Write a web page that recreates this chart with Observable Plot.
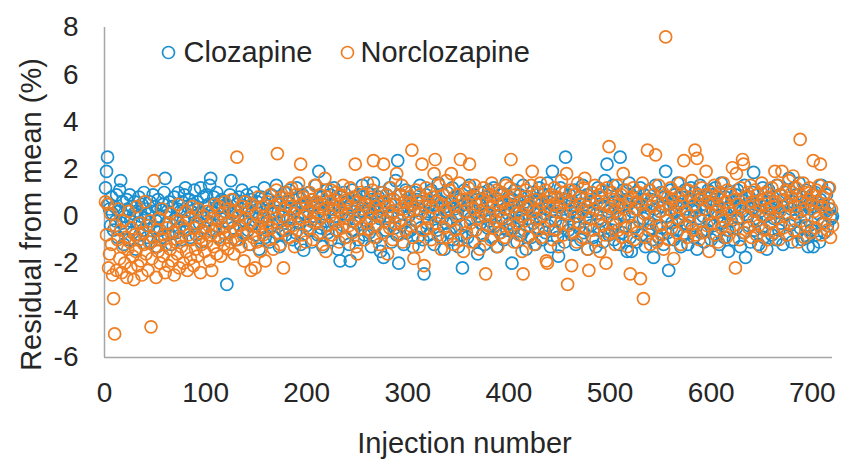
<!DOCTYPE html>
<html><head><meta charset="utf-8">
<script src="https://cdn.jsdelivr.net/npm/d3@7"></script>
<script src="https://cdn.jsdelivr.net/npm/@observablehq/plot@0.6"></script>
<style>html,body{margin:0;padding:0;background:#fff}</style>
</head><body><div id="chart"></div>
<script>
const seriesNames = ["Clozapine", "Norclozapine"];
const seriesColors = ["#1a8fd0", "#ef7d22"];
const xTicks = [0, 100, 200, 300, 400, 500, 600, 700];
const yTicks = [-6, -4, -2, 0, 2, 4, 6, 8];
const xDomain = [0, 720];
const yDomain = [-6, 8];
const xLabel = "Injection number";
const yLabel = "Residual from mean (%)";

// Clozapine residuals, injection 1..720
const clozapine = [
1.2,1.9,2.5,0.5,0.3,-0.4,0.8,0.1,-0.6,0.4,-0.2,0.9,-0.9,0.2,1.1,1.5,-0.3,0.6,-1.2,0.0,
-0.5,0.7,0.3,-1.0,0.9,-0.2,0.4,-0.7,0.1,0.6,-1.4,0.2,-0.3,0.8,-0.8,0.0,0.5,-0.6,1.0,-0.1,
0.3,-0.9,0.1,-0.4,0.6,-1.1,0.2,0.9,-0.5,0.4,-0.2,-1.3,0.7,0.0,-0.6,0.3,-0.9,0.5,1.0,1.6,
-0.3,0.2,-0.8,0.6,0.1,-1.2,0.4,-0.4,0.8,-0.1,-0.7,0.3,1.0,-0.5,0.2,-1.0,0.6,-0.2,0.9,1.2,
-0.6,0.4,-0.1,0.7,-0.9,0.2,0.5,-0.4,1.1,0.0,-0.8,0.6,0.3,-0.3,1.2,-1.1,0.1,0.8,-0.5,0.4,
0.9,-0.2,0.5,1.3,1.6,0.2,-0.6,0.8,0.1,-0.4,1.0,0.3,-0.9,0.6,-0.1,0.7,0.4,-0.7,0.2,0.5,
-2.9,0.4,-0.3,0.9,1.5,0.1,-0.5,0.7,0.2,-1.0,0.5,0.0,0.8,-0.4,0.3,1.1,-0.7,0.6,-0.2,0.4,
0.9,-0.6,0.2,-1.2,0.7,0.1,-0.3,1.0,-0.8,0.4,0.6,-0.1,-1.4,0.3,0.8,-0.5,0.0,1.2,-0.9,0.5,
-0.2,0.7,-1.1,0.3,0.9,-0.4,0.1,-0.9,0.6,1.3,-0.3,0.2,-1.3,0.5,0.8,-0.6,0.0,1.0,-0.8,0.4,
0.6,-0.5,1.1,-0.1,0.3,-1.0,0.7,0.2,-0.7,1.2,0.0,-0.3,0.8,-1.2,0.4,0.9,-1.45,0.1,0.5,-0.4,
0.2,1.0,-0.6,0.4,-1.1,0.7,0.0,-0.3,1.3,0.5,-0.8,1.9,0.3,-0.5,0.8,-1.3,0.1,0.6,-0.2,1.1,
-0.7,0.3,0.9,-1.0,0.5,-0.2,1.2,0.0,-0.6,0.7,-1.4,0.4,-1.9,0.8,0.1,-0.4,1.0,-0.9,0.3,0.6,
-0.1,-1.2,-1.9,0.5,1.1,-0.6,0.2,0.8,-0.3,0.4,-1.0,0.9,0.0,-0.5,1.3,0.2,-0.8,0.6,-0.2,1.0,
0.3,-0.7,0.7,-1.3,0.1,1.4,-0.4,0.5,-0.9,0.2,0.8,-0.1,-1.5,0.6,1.0,-1.75,0.4,-0.6,0.9,0.0,
-0.3,1.2,0.5,-1.1,0.2,0.7,-0.5,1.5,-0.8,2.35,-2.0,0.3,0.9,-0.4,0.1,-1.2,0.6,1.1,-0.7,0.4,
0.0,0.8,-0.6,0.5,-1.3,0.2,1.0,-0.2,0.7,-0.9,0.3,1.3,-0.5,0.6,-1.0,-2.45,0.4,0.9,-0.3,0.1,
-0.8,0.5,1.1,-0.4,0.2,-1.2,0.8,0.0,-0.6,1.4,0.3,-0.9,0.6,-0.1,0.9,-1.4,0.4,-0.3,1.0,0.2,
-0.7,0.6,-0.2,1.2,-1.0,0.3,0.8,-0.5,0.1,-1.3,0.7,0.4,-0.8,-2.2,0.5,1.1,-0.4,0.2,-0.9,0.6,
1.3,-0.1,0.4,-0.6,0.9,-1.1,0.2,0.7,-1.6,0.0,0.5,-0.3,1.0,-0.8,0.3,-1.2,0.8,0.1,-0.5,1.1,
-0.2,0.6,-0.9,0.4,1.2,-0.4,0.0,-1.3,0.7,0.2,-0.7,0.9,-0.1,0.5,-1.0,0.3,1.4,-0.6,0.1,0.8,
-0.3,0.5,-2.0,0.7,-0.5,1.1,0.2,-1.1,0.4,-0.2,0.9,-0.8,0.0,1.3,-0.6,0.6,-1.4,0.3,0.8,-0.1,
0.4,-0.9,1.0,-0.3,0.6,-1.2,0.2,0.7,-0.5,1.2,-0.1,0.5,-1.0,0.9,0.1,-0.7,0.3,1.4,-0.4,0.6,
-1.3,0.2,1.9,-0.6,0.8,-0.2,0.4,-0.9,-1.7,0.5,1.2,1.0,-0.4,0.3,-1.1,2.5,0.7,0.0,-0.6,0.9,
0.2,-0.8,0.6,-0.3,1.1,-1.2,0.4,0.0,-0.5,0.8,-1.0,0.3,1.3,-0.7,0.5,-0.1,0.9,-1.4,0.2,0.6,
-0.4,1.0,-0.9,0.3,0.7,-1.3,0.1,1.2,-0.6,0.5,-0.2,0.8,-1.1,0.4,1.5,-0.5,2.2,0.2,-0.8,1.0,
0.3,-0.6,1.3,-1.0,0.6,-0.3,0.9,0.1,-1.2,2.5,0.4,-0.7,1.1,0.0,-0.4,0.7,-1.5,0.5,1.4,-0.9,
-1.5,0.2,0.8,-0.5,1.0,-1.1,0.3,0.6,-0.2,1.2,-0.8,0.4,-0.1,0.9,-1.3,0.5,0.1,-0.6,1.1,-0.3,
0.7,-1.0,-1.75,0.3,1.3,-0.4,0.6,-0.9,0.2,1.0,-0.5,0.4,-1.2,0.8,1.9,0.0,-0.7,-2.3,0.5,1.1,
-0.3,0.6,-1.0,0.9,0.2,-0.6,1.4,-0.2,0.5,-1.3,0.8,0.1,-0.8,1.1,0.3,-0.4,-1.2,0.7,0.0,1.2,
-0.5,0.4,-0.9,1.0,0.2,-1.4,0.7,-0.1,1.3,-0.7,0.5,0.0,-1.1,0.8,0.3,-0.6,1.1,-0.2,0.6,-1.0,
0.9,0.2,-0.4,1.2,-0.8,0.5,0.0,-1.2,0.7,1.4,-0.3,0.3,-0.9,0.8,0.1,-0.6,-1.5,0.4,1.0,-0.2,
0.6,-1.0,0.3,0.9,-0.5,1.1,-0.1,0.4,-1.3,0.7,0.2,-0.7,1.3,-1.75,0.5,0.0,-0.4,0.8,-1.1,0.3,
1.0,1.85,-0.6,0.5,-0.2,0.9,-1.2,0.2,0.7,-0.5,1.2,-0.9,0.4,0.0,-1.4,0.6,1.1,-0.3,0.3,-0.8,
0.8,-0.1,0.5,-1.0,1.3,0.2,-0.6,0.9,-0.3,0.4,-1.2,0.7,0.1,1.0,-0.8,0.5,1.6,-0.4,0.3,-1.1,
0.6,1.2,-0.2,0.9,-0.7,0.4,1.4,-0.5,0.2,-1.0,0.8,0.0,-0.4,1.1,-0.9,-1.3,0.5,0.3,-0.6,0.9,
-1.3,0.4,1.0,-0.8,0.6,0.1,-1.1,0.7,1.3,-0.3,0.5,-0.7,0.2,0.9,-0.4,1.2,0.3,0.0,-0.1,0.0
];

// Norclozapine residuals, injection 1..720
const norclozapine = [
0.6,-0.8,0.5,-2.2,-1.6,0.1,-1.2,-2.5,-3.5,-5.0,-0.4,-2.3,-1.0,0.3,-1.8,-0.6,-2.4,-1.3,-0.2,-2.0,
-0.9,-2.6,-1.4,0.2,-1.1,-2.2,-0.5,-1.7,-2.7,-0.8,-1.5,0.4,-2.1,-1.0,-0.3,-1.9,-2.5,-0.7,-1.2,0.6,
-1.6,-0.4,-2.3,-1.1,-0.2,-4.7,-1.8,-0.9,1.5,-1.3,-2.6,-0.6,-1.5,-0.1,-2.0,-1.0,0.3,-1.7,-0.8,-2.4,
-1.2,-0.5,-2.1,-0.3,-1.4,0.1,-1.9,-0.7,-2.5,-1.1,-0.2,-1.6,0.5,-2.2,-0.9,-1.3,-0.4,-2.0,-0.6,0.2,
-1.5,-2.3,-0.8,-0.1,-1.8,-1.0,0.4,-2.1,-0.5,-1.4,-0.3,-1.7,0.3,-0.9,-2.4,-1.2,-0.6,0.0,-1.5,-0.7,
-1.1,0.2,-0.4,-1.9,-0.8,-2.3,-0.1,-1.3,0.5,-0.6,-1.6,-0.2,0.4,-1.0,-1.7,0.1,-0.5,-1.2,0.6,-0.9,
-0.3,-1.4,0.3,-0.7,-1.1,0.7,-0.2,-1.6,0.2,-0.6,2.5,-1.0,0.0,-0.4,-1.3,0.4,-0.8,-1.9,0.6,-0.1,
-0.7,0.3,-1.2,-0.3,-2.3,0.5,-0.9,-0.4,-2.2,0.1,-1.1,0.8,-0.5,-1.5,-0.2,0.4,-0.8,0.0,-1.9,-0.6,
0.6,-0.3,-1.0,0.9,-0.5,0.2,-1.4,0.4,-0.1,1.1,2.65,-0.7,0.5,-1.2,0.8,0.0,-2.2,0.3,-0.6,1.0,
-0.2,0.7,-0.9,0.4,1.2,-0.4,0.1,-1.3,0.9,0.3,-0.6,1.4,-0.1,2.2,0.5,-0.8,0.8,0.0,-1.1,0.6,
0.2,-0.5,1.0,-0.2,0.7,-1.0,0.4,1.3,-0.3,0.6,0.1,-0.7,0.9,-0.1,0.5,-1.2,0.3,1.6,-1.5,0.8,
-0.4,0.6,0.0,1.1,-0.8,0.3,0.7,-0.3,1.0,-0.6,0.4,-1.1,0.9,0.2,-0.5,1.3,-0.1,0.5,-0.9,0.7,
0.1,-0.4,1.2,0.4,-0.7,0.8,-0.2,2.2,-1.3,-1.6,0.6,0.0,1.0,-0.5,0.3,0.9,-1.0,0.5,-0.3,1.4,
-0.6,0.2,0.8,-0.1,1.1,2.35,-0.9,0.4,-0.4,0.7,0.0,-1.2,1.0,0.3,-0.7,2.2,0.6,-0.2,0.9,-1.6,
0.4,-0.5,1.2,0.1,-1.0,0.7,-0.3,0.5,1.8,0.0,-0.8,0.9,-0.2,1.3,-1.1,0.3,0.6,-0.6,1.0,0.2,
0.8,-0.4,0.5,2.8,-0.9,-1.8,0.3,1.1,-0.2,0.6,-1.3,0.9,0.1,2.2,-0.6,-2.1,0.4,1.2,-0.5,0.7,
-0.1,1.0,-1.0,0.4,0.8,1.8,2.4,-0.3,0.6,-0.8,1.3,0.0,-1.4,0.5,0.9,-0.5,0.2,1.5,-0.9,0.3,
1.1,-0.2,1.8,0.6,-1.2,0.4,-0.6,0.9,0.0,-1.0,1.4,2.4,-0.4,0.7,-1.5,0.2,1.0,-0.7,0.5,1.2,
2.2,-0.3,0.8,-1.1,0.3,1.3,-0.6,0.5,-0.1,1.0,-1.4,0.2,0.7,-0.8,1.2,0.0,-2.45,0.6,-0.4,0.9,
0.1,-1.0,1.4,0.4,-0.5,0.8,-0.2,1.1,-1.3,0.5,0.2,-0.7,1.0,-0.1,0.6,-0.9,1.3,0.3,-0.4,0.7,
1.2,2.4,-0.6,0.4,-1.1,0.9,0.1,-0.3,1.5,-0.8,0.6,0.0,-1.5,-2.45,0.8,-0.2,1.1,0.4,-0.9,0.5,
-0.4,1.3,1.9,0.2,-1.2,0.7,-0.1,1.0,-0.6,0.3,1.4,-0.9,0.6,0.0,-0.5,1.1,-1.9,-2.0,0.4,0.8,
-0.2,0.9,-1.0,0.5,1.2,-0.6,0.2,0.8,-1.3,0.4,-0.3,1.5,0.1,-0.8,0.7,1.0,1.8,-2.9,-0.4,0.6,
1.1,-2.1,0.3,-0.7,0.9,0.0,-1.1,1.4,-0.3,0.5,0.8,-0.9,0.2,1.2,1.6,-0.5,0.4,-1.4,-2.3,0.7,
-0.1,1.0,-0.6,0.3,1.3,-1.0,0.6,-0.2,0.9,-1.5,0.1,1.1,-0.4,0.5,-0.8,-2.0,1.2,0.0,2.95,-0.7,
0.4,1.0,-0.3,0.7,-1.2,0.2,1.3,-0.6,0.5,-0.1,0.9,-0.9,1.8,0.3,-0.5,1.1,-1.3,0.6,0.0,-2.45,
0.8,-0.4,1.2,-1.0,0.3,0.6,-0.7,1.0,-0.2,-2.65,0.5,1.4,-3.5,0.1,-0.9,0.7,2.8,-0.3,1.1,-1.2,
0.4,-0.6,0.9,0.0,2.6,-1.1,0.6,1.3,-0.4,0.2,-0.8,1.0,-1.4,0.5,7.6,-0.2,0.8,-1.0,0.3,1.2,
-0.5,0.7,-1.8,0.1,1.0,-0.7,0.4,-0.1,1.4,-1.2,0.6,0.9,2.35,-0.4,0.2,-0.9,1.1,0.0,-0.3,0.8,
1.5,-0.6,0.5,2.8,-0.8,2.45,0.9,-1.0,0.7,-0.2,1.2,-0.7,0.3,0.9,1.9,-0.4,0.6,-1.5,0.1,1.0,
-0.3,0.5,1.3,-0.8,0.2,0.8,-1.1,0.4,1.0,-0.5,0.0,1.4,-0.2,0.6,-0.9,1.1,0.3,-0.6,0.9,0.1,
2.05,-0.4,0.7,-2.2,1.8,-0.1,0.5,-1.0,1.2,0.3,2.4,2.2,-0.7,0.8,0.0,1.0,-0.5,0.4,1.3,-0.9,
0.6,-0.2,1.1,0.2,-0.8,0.9,-0.4,0.5,-1.3,1.4,0.0,0.7,-0.6,1.0,0.3,-1.0,0.8,0.1,-0.3,1.2,
0.4,-0.7,1.9,0.6,-0.1,1.3,-1.0,0.2,0.9,1.9,-0.5,0.7,0.0,1.1,-0.8,0.5,1.5,-0.3,0.8,1.0,
1.7,-0.6,0.4,1.2,0.1,-1.1,0.9,3.25,-0.2,0.6,1.4,-0.9,0.3,1.0,-0.4,0.7,1.2,-0.7,0.5,0.9,
2.35,0.2,-0.5,1.1,0.6,-0.1,1.3,2.2,-0.8,0.4,0.8,-0.3,1.0,0.1,-0.6,0.5,1.2,-0.9,0.3,-0.4
];

const seriesValues = [clozapine, norclozapine];
const rows = [];
seriesNames.forEach((name, k) => {
  seriesValues[k].forEach((v, i) => rows.push({series: name, injection: i + 1, residual: v}));
});

const textColor = "#262626";
const axisColor = "#a6a6a6";
const fontFamily = "'Liberation Sans', Arial, Helvetica, sans-serif";
const plainFormat = d => String(d);

const chart = Plot.plot({
  width: 841,
  height: 459,
  marginLeft: 104,
  marginRight: 9,
  marginTop: 27,
  marginBottom: 102,
  style: {fontFamily, fontSize: "28px", background: "#fff", color: textColor},
  x: {domain: xDomain},
  y: {domain: yDomain},
  color: {domain: seriesNames, range: seriesColors},
  marks: [
    Plot.axisY({ticks: yTicks, tickFormat: plainFormat, tickSize: 0, tickPadding: 26, label: null, fontSize: 28, fill: textColor}),
    Plot.axisX({ticks: xTicks, tickFormat: plainFormat, tickSize: 0, tickPadding: 25, label: null, fontSize: 28, fill: textColor}),
    Plot.ruleX([xDomain[0]], {stroke: axisColor, strokeWidth: 1.5}),
    Plot.ruleY([yDomain[0]], {stroke: axisColor, strokeWidth: 1.5}),
    Plot.dot(rows, {x: "injection", y: "residual", stroke: "series", r: 6, strokeWidth: 1.7}),
    // legend
    Plot.dot([seriesNames[0]], {frameAnchor: "top-left", dx: 64, dy: 25, r: 6, stroke: seriesColors[0], strokeWidth: 1.7}),
    Plot.text([seriesNames[0]], {frameAnchor: "top-left", dx: 79, dy: 25, text: d => d, textAnchor: "start", lineAnchor: "middle", fontSize: 29, fill: textColor}),
    Plot.dot([seriesNames[1]], {frameAnchor: "top-left", dx: 243, dy: 25, r: 6, stroke: seriesColors[1], strokeWidth: 1.7}),
    Plot.text([seriesNames[1]], {frameAnchor: "top-left", dx: 256, dy: 25, text: d => d, textAnchor: "start", lineAnchor: "middle", fontSize: 29, fill: textColor}),
    // axis titles
    Plot.text([yLabel], {frameAnchor: "left", text: d => d, rotate: -90, textAnchor: "middle", lineAnchor: "middle", dx: -73, dy: 22, fontSize: 29, fill: textColor}),
    Plot.text([xLabel], {frameAnchor: "bottom", text: d => d, textAnchor: "middle", lineAnchor: "middle", dx: -4, dy: 86, fontSize: 29, fill: textColor})
  ]
});
document.getElementById("chart").appendChild(chart);
</script>
</body></html>
